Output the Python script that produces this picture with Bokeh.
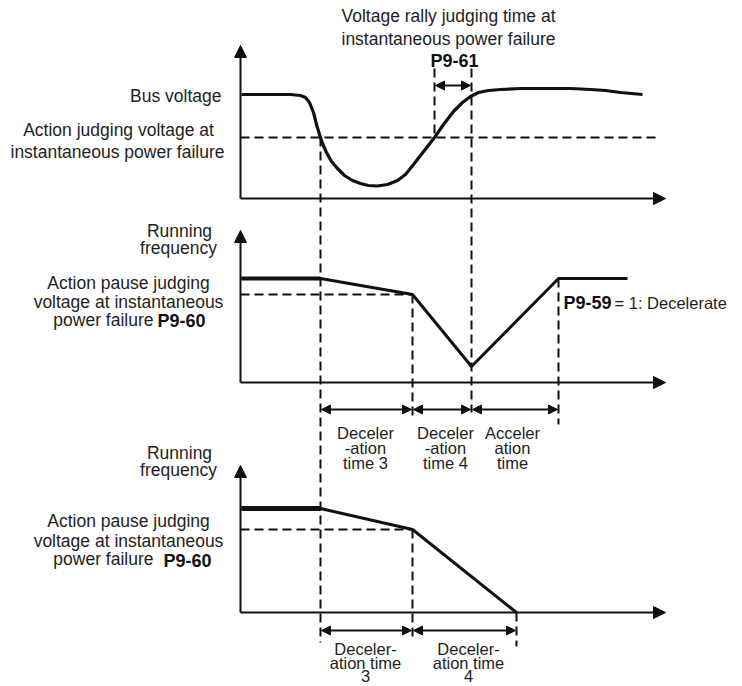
from bokeh.plotting import figure
from bokeh.models import Range1d, Arrow, NormalHead
from bokeh.core.properties import value
from bokeh.embed import file_html
from bokeh.resources import INLINE

# ---------------- data (diagram coordinates) ----------------
# key instants on the time axis
t_fail = 320      # bus voltage falls below action judging level
t_rally = 434     # bus voltage back above judging level
t_recover = 471   # rally judging time P9-61 elapsed
t_dec3_end = 412  # end of deceleration time 3
t_acc_end = 558   # end of acceleration time
t_stop = 516      # frequency reaches zero (lower case)

# levels
bus_judge_level = 137
pause_level_1 = 294
pause_level_2 = 529

# bus voltage curve
bus_t = [241, 290, 300, 305, 309, 313, 316, 319, 322, 326, 331, 337, 344, 352,
         360, 368, 377, 387, 397, 405, 413, 420, 427, 434, 443, 453, 462, 470,
         478, 488, 500, 520, 545, 570, 590, 605, 620, 642]
bus_v = [94, 94, 95, 97, 102, 112, 124, 134, 143, 152, 161, 168, 175, 180,
         183, 185, 185.5, 184, 180, 174, 164, 155, 146, 137, 124, 111, 102, 96,
         92, 90, 89, 88, 88, 88, 89, 90, 92, 94]

# running frequency, case P9-59 = 1 with recovery
run1_t = [241, 320, 412, 471, 558, 627]
run1_f = [278, 278, 294, 366, 278, 278]

# running frequency, decelerate to stop
run2_t = [241, 320, 412, 516]
run2_f = [508, 508, 529, 612]

# ---------------- figure ----------------
FONT = value("Liberation Sans")
INK = "#111111"
TXT = "#1e1e1e"

p = figure(width=742, height=686, output_backend="svg", toolbar_location=None,
           x_range=Range1d(0, 742), y_range=Range1d(686, 0),
           x_axis_type=None, y_axis_type=None, min_border=0)
p.grid.visible = False
p.outline_line_color = None
p.background_fill_color = "white"
p.border_fill_color = "white"

# axes with arrow heads (one pair per panel)
axis_x0 = 240
axis_tip_x = 665
panel_bottoms = [198, 382, 612]
panel_tops = [45, 230, 465]
for yb, yt in zip(panel_bottoms, panel_tops):
    p.add_layout(Arrow(end=NormalHead(size=12, fill_color=INK, line_color=INK, line_width=1),
                       x_start=axis_x0, y_start=yb, x_end=axis_x0, y_end=yt,
                       line_color=INK, line_width=2))
    p.add_layout(Arrow(end=NormalHead(size=12, fill_color=INK, line_color=INK, line_width=1),
                       x_start=axis_x0, y_start=yb, x_end=axis_tip_x, y_end=yb,
                       line_color=INK, line_width=2))

# dashed guide lines
dash = "9 5"
dx0 = [axis_x0, axis_x0, axis_x0]
dx1 = [657, t_dec3_end, t_dec3_end]
dy = [bus_judge_level, pause_level_1, pause_level_2]
p.segment(x0=dx0, y0=dy, x1=dx1, y1=dy, line_color=INK, line_width=2, line_dash=dash)

vx = [t_fail, t_rally, t_recover, t_dec3_end, t_acc_end, t_dec3_end, t_stop]
vy0 = [bus_judge_level, 68, 68, pause_level_1, 278, pause_level_2, 612]
vy1 = [642, bus_judge_level, 412, 419, 424, 640, 646]
p.segment(x0=vx, y0=vy0, x1=vx, y1=vy1, line_color=INK, line_width=2, line_dash=dash)

# curves
p.line(bus_t, bus_v, line_color=INK, line_width=3.2)
p.line(run1_t, run1_f, line_color=INK, line_width=3)
p.line(run1_t[:2], run1_f[:2], line_color=INK, line_width=4)
p.line(run2_t, run2_f, line_color=INK, line_width=3)
p.line(run2_t[:2], run2_f[:2], line_color=INK, line_width=5)

# double-headed time-span arrows
spans = [
    (t_rally, t_recover, 85),
    (t_fail, t_dec3_end, 409),
    (t_dec3_end, t_recover, 409),
    (t_recover, t_acc_end, 409),
    (t_fail, t_dec3_end, 630),
    (t_dec3_end, t_stop, 630),
]
for xs, xe, yy in spans:
    p.add_layout(Arrow(start=NormalHead(size=9, fill_color=INK, line_color=INK, line_width=1),
                       end=NormalHead(size=9, fill_color=INK, line_color=INK, line_width=1),
                       x_start=xs + 1, y_start=yy, x_end=xe - 1, y_end=yy,
                       line_color=INK, line_width=1.8))

# ---------------- texts ----------------
center_labels = ["Voltage rally judging time at", "instantaneous power failure",
                 "Action judging voltage at", "instantaneous power failure",
                 "Running", "frequency", "Action pause judging", "voltage at instantaneous",
                 "Running", "frequency", "Action pause judging", "voltage at instantaneous"]
center_x = [448, 448, 118, 117, 179, 178, 128, 128, 179, 178, 128, 128]
center_y = [15, 38, 129, 151, 230, 247, 282, 301, 452, 469, 520, 540]
p.text(x=center_x, y=center_y, text=center_labels, text_font=FONT, text_font_size="17.5px",
       text_color=TXT, text_align="center", text_baseline="middle")

right_labels = ["Bus voltage", "power failure", "power failure"]
right_x = [221, 153, 153]
right_y = [95, 319, 558]
p.text(x=right_x, y=right_y, text=right_labels, text_font=FONT, text_font_size="17.5px",
       text_color=TXT, text_align="right", text_baseline="middle")

bold_labels = ["P9-60", "P9-60", "P9-59"]
bold_x = [157, 163, 563]
bold_y = [320, 560, 302]
p.text(x=bold_x, y=bold_y, text=bold_labels, text_font=FONT, text_font_size="18px",
       text_font_style="bold", text_color=INK, text_align="left", text_baseline="middle")
p.text(x=[454], y=[60], text=["P9-61"], text_font=FONT, text_font_size="18px",
       text_font_style="bold", text_color=INK, text_align="center", text_baseline="middle")

p.text(x=[614], y=[302], text=["= 1: Decelerate"], text_font=FONT, text_font_size="16.5px",
       text_color=TXT, text_align="left", text_baseline="middle")

span_labels = ["Deceler", "-ation", "time 3",
               "Deceler", "-ation", "time 4",
               "Acceler", "ation", "time",
               "Deceler-", "ation time", "3",
               "Deceler-", "ation time", "4"]
span_x = [365, 365, 365, 445, 445, 445, 512, 512, 512, 365, 365, 365, 468, 468, 468]
span_y = [432, 447, 462, 432, 447, 462, 432, 447, 462, 648, 662, 675, 648, 662, 675]
p.text(x=span_x, y=span_y, text=span_labels, text_font=FONT, text_font_size="16.5px",
       text_color=TXT, text_align="center", text_baseline="middle")

open("out.html", "w").write(file_html(p, INLINE))
